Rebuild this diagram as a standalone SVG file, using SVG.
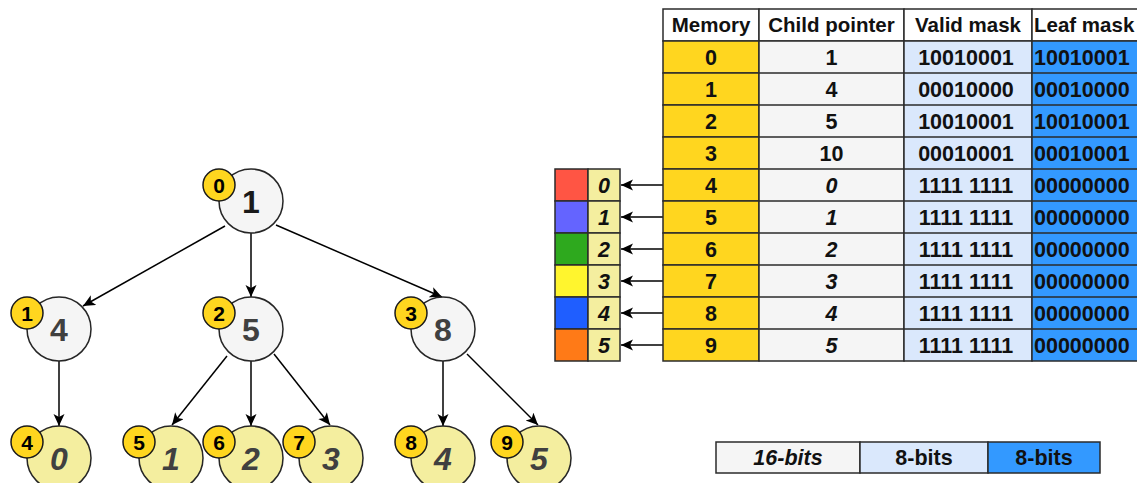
<svg xmlns="http://www.w3.org/2000/svg" width="1137" height="483" viewBox="0 0 1137 483">
<style>
text{font-family:"Liberation Sans",Arial,sans-serif;font-weight:bold;}
.node{fill:#f5f5f5;stroke:#262626;stroke-width:1.5;}
.leaf{fill:#f4ee9f;stroke:#262626;stroke-width:1.5;}
.badge{fill:#ffd61f;stroke:#1a1a1a;stroke-width:1.5;}
.nt{font-size:32px;fill:#404040;text-anchor:middle;}
.lt{font-size:32px;fill:#404040;text-anchor:middle;font-style:italic;}
.bt{font-size:21px;fill:#000;text-anchor:middle;}
.edge{stroke:#000;stroke-width:1.5;fill:none;marker-end:url(#arr);}
.cell{stroke:#2b2b2b;stroke-width:1.5;}
.tt{font-size:21.5px;fill:#111;text-anchor:middle;}
.th{font-size:20.5px;fill:#111;text-anchor:middle;}
.ls{text-anchor:start;}
.it{font-style:italic;}
</style>
<defs>
<marker id="arr" markerUnits="userSpaceOnUse" markerWidth="13" markerHeight="12" refX="12" refY="5.5" orient="auto">
<path d="M0,0 L12,5.5 L0,11 L3,5.5 z" fill="#000"/>
</marker>
</defs>
<rect width="1137" height="483" fill="#fff"/>

<g id="connectors">
<line class="edge" x1="225" y1="226" x2="83" y2="306"/>
<line class="edge" x1="251" y1="233" x2="251" y2="297"/>
<line class="edge" x1="276" y1="225" x2="442" y2="297"/>
<line class="edge" x1="59" y1="361" x2="59" y2="426"/>
<line class="edge" x1="227" y1="356" x2="172" y2="425"/>
<line class="edge" x1="251" y1="361" x2="251" y2="426"/>
<line class="edge" x1="274" y1="354" x2="330" y2="425"/>
<line class="edge" x1="443" y1="361" x2="443" y2="426"/>
<line class="edge" x1="467" y1="354" x2="538" y2="425"/>
<line class="edge" x1="663" y1="185" x2="621" y2="185"/>
<line class="edge" x1="663" y1="217" x2="621" y2="217"/>
<line class="edge" x1="663" y1="249" x2="621" y2="249"/>
<line class="edge" x1="663" y1="281" x2="621" y2="281"/>
<line class="edge" x1="663" y1="313" x2="621" y2="313"/>
<line class="edge" x1="663" y1="345" x2="621" y2="345"/>
</g>

<g id="node-root">
<circle class="node" cx="251" cy="201" r="32"/>
<text class="nt" x="251" y="212.5" style="fill:#1a1a1a">1</text>
<circle class="badge" cx="219" cy="185" r="16"/>
<text class="bt" x="219" y="192.5">0</text>
</g>
<g id="node-4">
<circle class="node" cx="59" cy="329" r="32"/>
<text class="nt" x="59" y="340.5">4</text>
<circle class="badge" cx="27" cy="313" r="16"/>
<text class="bt" x="27" y="320.5">1</text>
</g>
<g id="node-5">
<circle class="node" cx="251" cy="329" r="32"/>
<text class="nt" x="251" y="340.5">5</text>
<circle class="badge" cx="219" cy="313" r="16"/>
<text class="bt" x="219" y="320.5">2</text>
</g>
<g id="node-8">
<circle class="node" cx="443" cy="329" r="32"/>
<text class="nt" x="443" y="340.5">8</text>
<circle class="badge" cx="411" cy="313" r="16"/>
<text class="bt" x="411" y="320.5">3</text>
</g>
<g id="leaf-0">
<circle class="leaf" cx="59" cy="458" r="32"/>
<text class="lt" x="59" y="469.5">0</text>
<circle class="badge" cx="27" cy="442" r="16"/>
<text class="bt" x="27" y="449.5">4</text>
</g>
<g id="leaf-1">
<circle class="leaf" cx="171" cy="458" r="32"/>
<text class="lt" x="171" y="469.5">1</text>
<circle class="badge" cx="139" cy="442" r="16"/>
<text class="bt" x="139" y="449.5">5</text>
</g>
<g id="leaf-2">
<circle class="leaf" cx="251" cy="458" r="32"/>
<text class="lt" x="251" y="469.5">2</text>
<circle class="badge" cx="219" cy="442" r="16"/>
<text class="bt" x="219" y="449.5">6</text>
</g>
<g id="leaf-3">
<circle class="leaf" cx="331" cy="458" r="32"/>
<text class="lt" x="331" y="469.5">3</text>
<circle class="badge" cx="299" cy="442" r="16"/>
<text class="bt" x="299" y="449.5">7</text>
</g>
<g id="leaf-4">
<circle class="leaf" cx="443" cy="458" r="32"/>
<text class="lt" x="443" y="469.5">4</text>
<circle class="badge" cx="411" cy="442" r="16"/>
<text class="bt" x="411" y="449.5">8</text>
</g>
<g id="leaf-5">
<circle class="leaf" cx="539" cy="458" r="32"/>
<text class="lt" x="539" y="469.5">5</text>
<circle class="badge" cx="507" cy="442" r="16"/>
<text class="bt" x="507" y="449.5">9</text>
</g>

<g id="palette">
<rect class="cell" x="555" y="169" width="33" height="32" fill="#ff5544"/>
<rect class="cell" x="555" y="201" width="33" height="32" fill="#6464ff"/>
<rect class="cell" x="555" y="233" width="33" height="32" fill="#2ea91e"/>
<rect class="cell" x="555" y="265" width="33" height="32" fill="#fff52e"/>
<rect class="cell" x="555" y="297" width="33" height="32" fill="#1f5eff"/>
<rect class="cell" x="555" y="329" width="33" height="32" fill="#ff7a17"/>
<rect class="cell" x="588" y="169" width="32" height="32" fill="#f4ee9f"/>
<rect class="cell" x="588" y="201" width="32" height="32" fill="#f4ee9f"/>
<rect class="cell" x="588" y="233" width="32" height="32" fill="#f4ee9f"/>
<rect class="cell" x="588" y="265" width="32" height="32" fill="#f4ee9f"/>
<rect class="cell" x="588" y="297" width="32" height="32" fill="#f4ee9f"/>
<rect class="cell" x="588" y="329" width="32" height="32" fill="#f4ee9f"/>
<text class="tt it" x="604" y="192.7">0</text>
<text class="tt it" x="604" y="224.7">1</text>
<text class="tt it" x="604" y="256.7">2</text>
<text class="tt it" x="604" y="288.7">3</text>
<text class="tt it" x="604" y="320.7">4</text>
<text class="tt it" x="604" y="352.7">5</text>
</g>

<g id="memory-table">
<rect class="cell" x="663" y="9" width="96" height="32" fill="#fff"/>
<rect class="cell" x="759" y="9" width="145" height="32" fill="#fff"/>
<rect class="cell" x="904" y="9" width="128" height="32" fill="#fff"/>
<rect class="cell" x="1032" y="9" width="110" height="32" fill="#fff"/>
<text class="th" x="711" y="32.3">Memory</text>
<text class="th" x="831.5" y="32.3">Child pointer</text>
<text class="th" x="968" y="32.3">Valid mask</text>
<text class="th ls" x="1034" y="32.3">Leaf mask</text>

<g id="col-memory">
<rect class="cell" x="663" y="41" width="96" height="32" fill="#ffd61f"/>
<rect class="cell" x="663" y="73" width="96" height="32" fill="#ffd61f"/>
<rect class="cell" x="663" y="105" width="96" height="32" fill="#ffd61f"/>
<rect class="cell" x="663" y="137" width="96" height="32" fill="#ffd61f"/>
<rect class="cell" x="663" y="169" width="96" height="32" fill="#ffd61f"/>
<rect class="cell" x="663" y="201" width="96" height="32" fill="#ffd61f"/>
<rect class="cell" x="663" y="233" width="96" height="32" fill="#ffd61f"/>
<rect class="cell" x="663" y="265" width="96" height="32" fill="#ffd61f"/>
<rect class="cell" x="663" y="297" width="96" height="32" fill="#ffd61f"/>
<rect class="cell" x="663" y="329" width="96" height="32" fill="#ffd61f"/>
<text class="tt" x="711" y="64.7">0</text>
<text class="tt" x="711" y="96.7">1</text>
<text class="tt" x="711" y="128.7">2</text>
<text class="tt" x="711" y="160.7">3</text>
<text class="tt" x="711" y="192.7">4</text>
<text class="tt" x="711" y="224.7">5</text>
<text class="tt" x="711" y="256.7">6</text>
<text class="tt" x="711" y="288.7">7</text>
<text class="tt" x="711" y="320.7">8</text>
<text class="tt" x="711" y="352.7">9</text>
</g>
<g id="col-child">
<rect class="cell" x="759" y="41" width="145" height="320" fill="#f5f5f5"/>
<path class="cell" fill="none" d="M759,73H904M759,105H904M759,137H904M759,169H904M759,201H904M759,233H904M759,265H904M759,297H904M759,329H904"/>
<text class="tt" x="831.5" y="64.7">1</text>
<text class="tt" x="831.5" y="96.7">4</text>
<text class="tt" x="831.5" y="128.7">5</text>
<text class="tt" x="831.5" y="160.7">10</text>
<text class="tt it" x="831.5" y="192.7">0</text>
<text class="tt it" x="831.5" y="224.7">1</text>
<text class="tt it" x="831.5" y="256.7">2</text>
<text class="tt it" x="831.5" y="288.7">3</text>
<text class="tt it" x="831.5" y="320.7">4</text>
<text class="tt it" x="831.5" y="352.7">5</text>
</g>
<g id="col-valid">
<rect class="cell" x="904" y="41" width="128" height="320" fill="#dae8fc"/>
<path class="cell" fill="none" d="M904,73H1032M904,105H1032M904,137H1032M904,169H1032M904,201H1032M904,233H1032M904,265H1032M904,297H1032M904,329H1032"/>
<text class="tt" x="966" y="64.7">10010001</text>
<text class="tt" x="966" y="96.7">00010000</text>
<text class="tt" x="966" y="128.7">10010001</text>
<text class="tt" x="966" y="160.7">00010001</text>
<text class="tt" x="966" y="192.7">1111 1111</text>
<text class="tt" x="966" y="224.7">1111 1111</text>
<text class="tt" x="966" y="256.7">1111 1111</text>
<text class="tt" x="966" y="288.7">1111 1111</text>
<text class="tt" x="966" y="320.7">1111 1111</text>
<text class="tt" x="966" y="352.7">1111 1111</text>
</g>
<g id="col-leaf">
<rect class="cell" x="1032" y="41" width="110" height="320" fill="#3399ff"/>
<path class="cell" fill="none" d="M1032,73H1142M1032,105H1142M1032,137H1142M1032,169H1142M1032,201H1142M1032,233H1142M1032,265H1142M1032,297H1142M1032,329H1142"/>
<text class="tt ls" x="1034" y="64.7">10010001</text>
<text class="tt ls" x="1034" y="96.7">00010000</text>
<text class="tt ls" x="1034" y="128.7">10010001</text>
<text class="tt ls" x="1034" y="160.7">00010001</text>
<text class="tt ls" x="1034" y="192.7">00000000</text>
<text class="tt ls" x="1034" y="224.7">00000000</text>
<text class="tt ls" x="1034" y="256.7">00000000</text>
<text class="tt ls" x="1034" y="288.7">00000000</text>
<text class="tt ls" x="1034" y="320.7">00000000</text>
<text class="tt ls" x="1034" y="352.7">00000000</text>
</g>
</g>

<g id="legend">
<rect class="cell" x="716" y="442" width="144" height="31" fill="#f5f5f5"/>
<rect class="cell" x="860" y="442" width="128" height="31" fill="#dae8fc"/>
<rect class="cell" x="988" y="442" width="112" height="31" fill="#3399ff"/>
<text class="tt it" x="788" y="465">16-bits</text>
<text class="tt" x="924" y="465">8-bits</text>
<text class="tt" x="1044" y="465">8-bits</text>
</g>
</svg>
